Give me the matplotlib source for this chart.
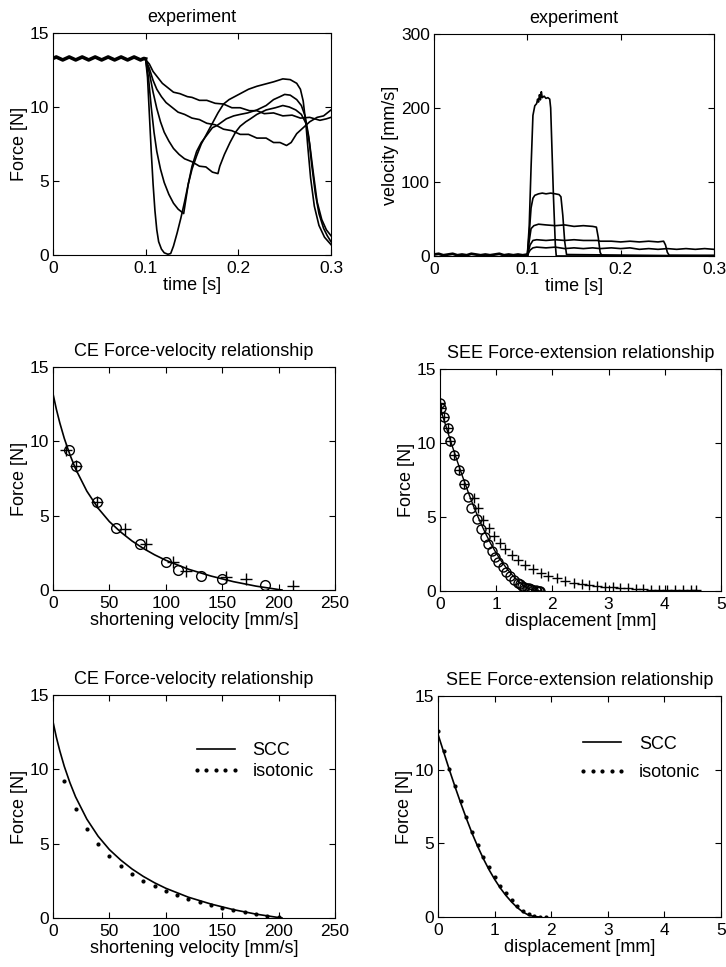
import matplotlib
matplotlib.use("Agg")
import matplotlib.pyplot as plt

plt.rcParams['font.family'] = ['Liberation Sans', 'DejaVu Sans']
plt.rcParams['font.size'] = 13
plt.rcParams['axes.titlesize'] = 13
plt.rcParams['axes.labelsize'] = 13
plt.rcParams['xtick.labelsize'] = 12.5
plt.rcParams['ytick.labelsize'] = 12.5

# ---------------- experiment: force [N] vs time [s] ----------------
# common isometric part before the release (all traces overlap)
t_pre = [0.000, 0.0035, 0.007, 0.0105, 0.014, 0.0175, 0.021, 0.0245, 0.028, 0.0315,
         0.035, 0.0385, 0.042, 0.0455, 0.049, 0.0525, 0.056, 0.0595, 0.063, 0.0665,
         0.070, 0.0735, 0.077, 0.0805, 0.084, 0.0875, 0.091, 0.0945, 0.098, 0.100]
f_pre = [13.28, 13.38, 13.28, 13.18, 13.28, 13.38, 13.28, 13.18, 13.28, 13.38,
         13.28, 13.18, 13.28, 13.38, 13.28, 13.18, 13.28, 13.38, 13.28, 13.18,
         13.28, 13.38, 13.28, 13.18, 13.28, 13.38, 13.28, 13.18, 13.28, 13.25]

# 10 mm/s release
t_f1 = [0.100, 0.104, 0.108, 0.113, 0.118, 0.124, 0.130, 0.137, 0.145, 0.150, 0.158, 0.166,
        0.175, 0.184, 0.193, 0.202, 0.212, 0.220, 0.228, 0.238, 0.248, 0.258, 0.267, 0.277,
        0.288, 0.295, 0.300]
f_f1 = [13.2, 12.9, 12.4, 12.0, 11.6, 11.3, 11.0, 10.9, 10.7, 10.65, 10.45, 10.45,
        10.25, 10.2, 9.95, 9.95, 9.75, 9.75, 9.55, 9.6, 9.4, 9.45, 9.25, 9.3,
        9.1, 9.2, 9.3]
# 20 mm/s release
t_f2 = [0.100, 0.104, 0.108, 0.112, 0.117, 0.122, 0.128, 0.135, 0.142, 0.150, 0.158, 0.166,
        0.175, 0.184, 0.193, 0.202, 0.211, 0.220, 0.230, 0.238, 0.245, 0.252, 0.257, 0.263,
        0.270, 0.277, 0.285, 0.292, 0.300]
f_f2 = [13.2, 12.6, 11.8, 11.2, 10.7, 10.3, 10.0, 9.65, 9.5, 9.25, 9.15, 8.9,
        8.8, 8.5, 8.4, 8.15, 8.15, 7.9, 7.9, 7.6, 7.6, 7.4, 7.6, 8.2,
        8.6, 9.0, 9.3, 9.4, 9.8]
# 42 mm/s release
t_f3 = [0.100, 0.104, 0.108, 0.112, 0.116, 0.120, 0.125, 0.130, 0.136, 0.142, 0.150, 0.158,
        0.165, 0.172, 0.178, 0.180, 0.185, 0.191, 0.197, 0.202, 0.208, 0.213, 0.220, 0.230,
        0.240, 0.248, 0.255, 0.262, 0.268, 0.273, 0.277, 0.281, 0.285, 0.290, 0.295, 0.300]
f_f3 = [13.2, 12.3, 11.0, 9.9, 9.0, 8.3, 7.7, 7.2, 6.8, 6.5, 6.3, 6.0,
        5.95, 5.6, 5.5, 6.0, 6.8, 7.6, 8.3, 8.7, 9.0, 9.2, 9.5, 9.8,
        9.95, 10.1, 10.0, 9.8, 9.5, 8.9, 7.5, 5.5, 3.6, 2.4, 1.7, 1.3]
# 83 mm/s release
t_f4 = [0.100, 0.103, 0.106, 0.109, 0.112, 0.116, 0.120, 0.125, 0.130, 0.135, 0.139, 0.141,
        0.143, 0.146, 0.150, 0.155, 0.160, 0.166, 0.172, 0.177, 0.187, 0.195, 0.202, 0.210,
        0.220, 0.230, 0.238, 0.245, 0.250, 0.256, 0.263, 0.268, 0.272, 0.276, 0.279, 0.283,
        0.287, 0.292, 0.296, 0.300]
f_f4 = [13.2, 12.0, 10.0, 8.3, 7.0, 5.8, 4.9, 4.1, 3.5, 3.1, 2.9, 2.8,
        3.6, 4.8, 6.0, 7.0, 7.6, 8.1, 8.6, 8.75, 9.2, 9.4, 9.5, 9.6,
        9.8, 10.1, 10.5, 10.7, 10.85, 10.8, 10.5, 10.1, 9.4, 8.0, 6.2, 4.2,
        2.8, 1.8, 1.3, 0.9]
# 220 mm/s release
t_f5 = [0.100, 0.102, 0.104, 0.106, 0.108, 0.110, 0.112, 0.114, 0.117, 0.120, 0.124, 0.127,
        0.130, 0.134, 0.138, 0.142, 0.146, 0.150, 0.155, 0.160, 0.166, 0.172, 0.178, 0.184,
        0.190, 0.196, 0.202, 0.211, 0.220, 0.229, 0.238, 0.248, 0.256, 0.263, 0.267, 0.270,
        0.273, 0.275, 0.278, 0.282, 0.287, 0.293, 0.300]
f_f5 = [13.2, 12.0, 9.5, 7.0, 4.8, 3.0, 1.7, 0.9, 0.4, 0.15, 0.05, 0.1,
        0.6, 1.5, 2.5, 3.6, 4.8, 5.8, 6.7, 7.5, 8.2, 8.9, 9.6, 10.2,
        10.5, 10.7, 10.9, 11.2, 11.4, 11.55, 11.7, 11.9, 11.85, 11.6, 11.2, 10.4,
        8.8, 7.3, 5.2, 3.3, 2.0, 1.2, 0.7]

# ---------------- experiment: velocity [mm/s] vs time [s] ----------------
t_vpre = [0.000, 0.005, 0.010, 0.015, 0.020, 0.025, 0.030, 0.035, 0.040, 0.045, 0.050,
          0.055, 0.060, 0.065, 0.070, 0.075, 0.080, 0.085, 0.090, 0.095, 0.100]
v_pre = [2, 3, 1, 2, 3, 1, 2, 1, 3, 2, 1, 2, 1, 2, 3, 1, 2, 1, 2, 1, 2]

t_v5 = [0.100, 0.102, 0.104, 0.106, 0.108, 0.110, 0.111, 0.112, 0.113, 0.114, 0.115, 0.116,
        0.118, 0.120, 0.122, 0.124, 0.125, 0.126, 0.128, 0.130, 0.131, 0.300]
v_v5 = [1, 40, 120, 190, 203, 206, 212, 208, 218, 211, 222, 214,
        216, 213, 214, 212, 200, 160, 80, 15, 0, 0]
t_v4 = [0.100, 0.102, 0.104, 0.106, 0.108, 0.112, 0.116, 0.120, 0.125, 0.130, 0.134, 0.136,
        0.138, 0.140, 0.142, 0.300]
v_v4 = [1, 30, 65, 78, 82, 84, 85, 84, 85, 84, 83, 80, 55, 20, 2, 0]
t_v3 = [0.100, 0.102, 0.104, 0.107, 0.112, 0.120, 0.130, 0.140, 0.150, 0.160, 0.170, 0.174,
        0.176, 0.178, 0.180, 0.300]
v_v3 = [1, 20, 37, 41, 43, 42, 41, 42, 40, 41, 40, 39, 25, 5, 0, 0]
t_v2 = [0.100, 0.103, 0.106, 0.110, 0.120, 0.130, 0.140, 0.150, 0.160, 0.175, 0.178, 0.190,
        0.200, 0.210, 0.220, 0.230, 0.240, 0.246, 0.248, 0.250, 0.252, 0.300]
v_v2 = [1, 15, 21, 22, 21, 22, 21, 22, 21, 21, 20, 20,
        19, 20, 19, 20, 19, 20, 15, 5, 1, 1]
t_v1 = [0.100, 0.103, 0.106, 0.110, 0.120, 0.130, 0.140, 0.150, 0.160, 0.170, 0.178, 0.190,
        0.200, 0.210, 0.220, 0.230, 0.240, 0.250, 0.260, 0.270, 0.280, 0.290, 0.300]
v_v1 = [1, 8, 11, 12, 11, 12, 10, 11, 10, 11, 10, 11,
        10, 11, 9, 10, 9, 10, 9, 10, 9, 10, 9]

# ---------------- CE force-velocity ----------------
ce_o_v = [13.9, 20.1, 39.0, 56.2, 77.5, 100.6, 111.2, 131.1, 149.4, 187.9]
ce_o_f = [9.39, 8.36, 5.91, 4.16, 3.08, 1.87, 1.35, 0.97, 0.76, 0.31]
ce_p_v = [11.8, 20.1, 39.0, 63.6, 82.2, 106.5, 118.3, 153.3, 171.0, 212.4]
ce_p_f = [9.39, 8.36, 5.91, 4.11, 3.08, 1.87, 1.30, 0.90, 0.76, 0.27]

scc_v = [0, 3, 6, 10, 15, 20, 30, 40, 50, 60, 70, 80, 90, 100, 120, 140, 160, 180, 200, 203]
scc_fv = [13.2, 12.15, 11.25, 10.2, 9.1, 8.15, 6.65, 5.5, 4.6, 3.9, 3.3, 2.8, 2.37, 2.0,
          1.4, 0.94, 0.56, 0.26, 0.03, 0.0]

iso_v = [10, 20, 30, 40, 50, 60, 70, 80, 90, 100, 110, 120, 130, 140, 150, 160, 170, 180, 190, 200]
iso_fv = [9.2, 7.35, 6.0, 5.0, 4.2, 3.5, 2.95, 2.5, 2.13, 1.82, 1.52, 1.28, 1.05, 0.87,
          0.7, 0.52, 0.38, 0.26, 0.15, 0.06]

# ---------------- SEE force-extension ----------------
see_o_x = [0.0, 0.02, 0.077, 0.136, 0.17, 0.248, 0.336, 0.425, 0.5, 0.56, 0.65, 0.737,
           0.796, 0.855, 0.926, 0.985, 1.04, 1.12, 1.18, 1.24, 1.31, 1.385, 1.42, 1.46,
           1.5, 1.54, 1.58, 1.62, 1.66, 1.70, 1.73, 1.76, 1.78]
see_o_f = [12.72, 12.34, 11.74, 10.99, 10.16, 9.19, 8.18, 7.23, 6.37, 5.59, 4.84, 4.17,
           3.67, 3.18, 2.73, 2.32, 1.98, 1.64, 1.31, 1.01, 0.74, 0.52, 0.45, 0.36,
           0.29, 0.22, 0.17, 0.12, 0.08, 0.05, 0.03, 0.02, 0.01]
see_p_x = [0, 0.02, 0.077, 0.136, 0.17, 0.248, 0.336, 0.425, 0.61, 0.68, 0.77, 0.87,
           0.96, 1.06, 1.16, 1.28, 1.39, 1.52, 1.65, 1.79, 1.93, 2.08, 2.23, 2.38,
           2.52, 2.65, 2.8, 2.93, 3.07, 3.2, 3.34, 3.48, 3.62, 3.76, 3.9, 4.04,
           4.18, 4.32, 4.46, 4.56]
see_p_f = [12.72, 12.34, 11.74, 10.99, 10.16, 9.19, 8.18, 7.23, 6.3, 5.59, 4.80, 4.23,
           3.72, 3.22, 2.82, 2.43, 2.09, 1.76, 1.49, 1.24, 1.04, 0.86, 0.70, 0.56,
           0.47, 0.41, 0.34, 0.29, 0.25, 0.21, 0.18, 0.15, 0.12, 0.10, 0.09, 0.07,
           0.06, 0.05, 0.04, 0.04]

scc_x = [0, 0.1, 0.2, 0.3, 0.4, 0.5, 0.6, 0.7, 0.8, 0.9, 1.0, 1.1, 1.2, 1.3, 1.4, 1.5,
         1.6, 1.7, 1.8]
scc_fx = [12.4, 11.2, 10.0, 8.85, 7.75, 6.7, 5.7, 4.8, 3.97, 3.22, 2.56, 1.97, 1.46,
          1.02, 0.64, 0.34, 0.13, 0.03, 0.0]

iso_x = [0, 0.1, 0.2, 0.3, 0.4, 0.5, 0.6, 0.7, 0.8, 0.9, 1.0, 1.1, 1.2, 1.3, 1.4, 1.5,
         1.6, 1.7, 1.8, 1.9]
iso_fx = [12.6, 11.3, 10.05, 8.9, 7.85, 6.8, 5.8, 4.9, 4.1, 3.38, 2.72, 2.12, 1.6, 1.15,
          0.77, 0.44, 0.19, 0.06, 0.01, 0.0]


def style(ax):
    ax.tick_params(direction='in', top=True, right=True, length=4, width=0.8)
    ax.tick_params(axis='x', pad=4.5)
    ax.tick_params(axis='y', pad=3)
    for s in ax.spines.values():
        s.set_linewidth(0.8)


def labels(ax, title, xlabel, ylabel):
    ax.set_title(title, pad=8)
    ax.set_xlabel(xlabel, labelpad=0.5)
    ax.set_ylabel(ylabel, labelpad=1)


W, H = 726, 967
fig = plt.figure(figsize=(W / 100, H / 100), dpi=100)


def add(x0, y_top, x1, y_bot):
    return fig.add_axes([x0 / W, 1 - y_bot / H, (x1 - x0) / W, (y_bot - y_top) / H])


lw = 1.2

# panel 1
ax = add(53, 33, 331, 255)
ax.plot(t_pre, f_pre, color='k', lw=2.6)
for t, f in [(t_f1, f_f1), (t_f2, f_f2), (t_f3, f_f3), (t_f4, f_f4), (t_f5, f_f5)]:
    ax.plot(t, f, color='k', lw=lw)
ax.set_xlim(0, 0.3)
ax.set_ylim(0, 15)
ax.set_xticks([0, 0.1, 0.2, 0.3])
ax.set_xticklabels(['0', '0.1', '0.2', '0.3'])
ax.set_yticks([0, 5, 10, 15])
labels(ax, 'experiment', 'time [s]', 'Force [N]')
style(ax)

# panel 2
ax = add(434, 34, 714, 256)
ax.plot(t_vpre, v_pre, color='k', lw=2.0)
for t, v in [(t_v1, v_v1), (t_v2, v_v2), (t_v3, v_v3), (t_v4, v_v4), (t_v5, v_v5)]:
    ax.plot(t, v, color='k', lw=lw)
ax.set_xlim(0, 0.3)
ax.set_ylim(0, 300)
ax.set_xticks([0, 0.1, 0.2, 0.3])
ax.set_xticklabels(['0', '0.1', '0.2', '0.3'])
ax.set_yticks([0, 100, 200, 300])
labels(ax, 'experiment', 'time [s]', 'velocity [mm/s]')
style(ax)

# panel 3
ax = add(53, 367, 335, 590)
ax.plot(scc_v, scc_fv, color='k', lw=lw)
ax.plot(ce_o_v, ce_o_f, 'o', mfc='none', mec='k', ms=7, mew=1.0)
ax.plot(ce_p_v, ce_p_f, '+', color='k', ms=8, mew=1.0)
ax.set_xlim(0, 250)
ax.set_ylim(0, 15)
ax.set_xticks([0, 50, 100, 150, 200, 250])
ax.set_yticks([0, 5, 10, 15])
labels(ax, 'CE Force-velocity relationship', 'shortening velocity [mm/s]', 'Force [N]')
style(ax)

# panel 4
ax = add(440, 369, 721, 591)
ax.plot(scc_x, scc_fx, color='k', lw=1.0)
ax.plot(see_o_x, see_o_f, 'o', mfc='none', mec='k', ms=6.5, mew=1.0)
ax.plot(see_p_x, see_p_f, '+', color='k', ms=7.5, mew=1.0)
ax.set_xlim(0, 5)
ax.set_ylim(0, 15)
ax.set_xticks([0, 1, 2, 3, 4, 5])
ax.set_yticks([0, 5, 10, 15])
labels(ax, 'SEE Force-extension relationship', 'displacement [mm]', 'Force [N]')
style(ax)

leg_kw = dict(loc='upper left', frameon=False, numpoints=5, handlelength=2.7,
              handletextpad=0.7, borderpad=0, borderaxespad=0)

# panel 5
ax = add(53, 695, 335, 918)
ax.plot(scc_v, scc_fv, color='k', lw=lw, label='SCC')
ax.plot(iso_v, iso_fv, '.', color='k', ms=4, label='isotonic')
ax.set_xlim(0, 250)
ax.set_ylim(0, 15)
ax.set_xticks([0, 50, 100, 150, 200, 250])
ax.set_yticks([0, 5, 10, 15])
labels(ax, 'CE Force-velocity relationship', 'shortening velocity [mm/s]', 'Force [N]')
ax.legend(bbox_to_anchor=(0.49, 0.788), labelspacing=0.2, **leg_kw)
style(ax)

# panel 6
ax = add(438, 696, 721, 917)
ax.plot(scc_x, scc_fx, color='k', lw=lw, label='SCC')
ax.plot(iso_x, iso_fx, '.', color='k', ms=4, label='isotonic')
ax.set_xlim(0, 5)
ax.set_ylim(0, 15)
ax.set_xticks([0, 1, 2, 3, 4, 5])
ax.set_yticks([0, 5, 10, 15])
labels(ax, 'SEE Force-extension relationship', 'displacement [mm]', 'Force [N]')
ax.legend(bbox_to_anchor=(0.494, 0.82), labelspacing=0.62, **leg_kw)
style(ax)

fig.savefig('out.png', dpi=100)
